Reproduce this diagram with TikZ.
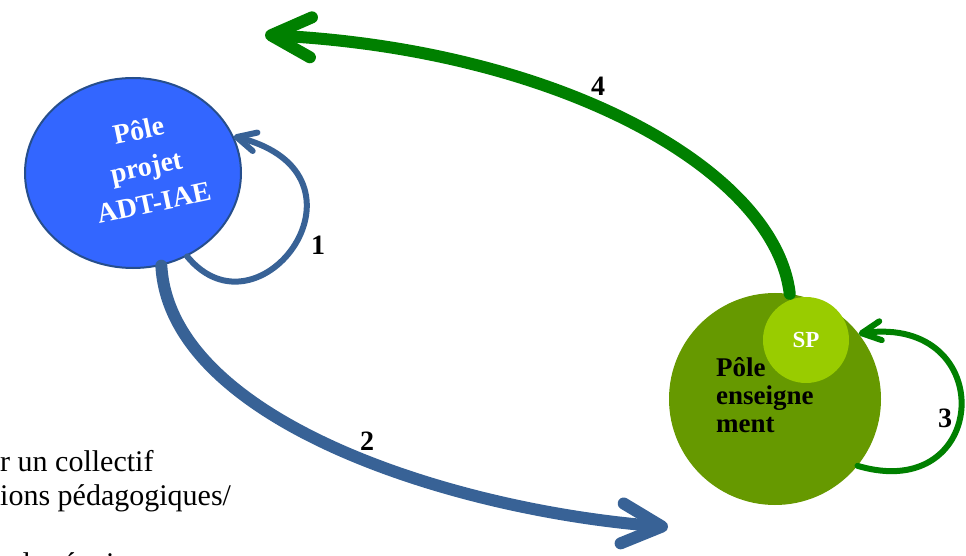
\documentclass[tikz,border=0pt]{standalone}
\usepackage{fontspec}
\setmainfont{Liberation Serif}
\usetikzlibrary{arrows.meta,shapes.geometric}
\definecolor{projblue}{RGB}{51,102,255}
\definecolor{projedge}{RGB}{38,78,140}
\definecolor{flowblue}{RGB}{56,98,150}
\definecolor{flowgreen}{RGB}{0,128,0}
\definecolor{ensgreen}{RGB}{102,153,0}
\definecolor{spgreen}{RGB}{153,204,0}
\tikzset{
  projcirc/.style={ellipse, draw=projedge, line width=2bp, fill=projblue,
    minimum width=216bp, minimum height=190bp},
  enscirc/.style={circle, fill=ensgreen, minimum size=212bp, inner sep=0pt},
  spcirc/.style={circle, fill=spgreen, minimum size=86bp, inner sep=0pt,
    text=white, font=\bfseries\fontsize{23bp}{26bp}\selectfont},
  projtext/.style={text=white, align=center, inner sep=0pt,
    font=\bfseries\fontsize{28bp}{37bp}\selectfont},
  enstext/.style={align=left, inner sep=0pt,
    font=\bfseries\fontsize{27bp}{28bp}\selectfont},
  flownum/.style={font=\bfseries\fontsize{28bp}{30bp}\selectfont, inner sep=0pt},
  bodytext/.style={anchor=base west, inner sep=0pt,
    font=\fontsize{30bp}{34bp}\selectfont},
  bigflow/.style={line width=12bp, line cap=round,
    -{Straight Barb[round, length=40bp, width=40bp]}},
  loopflow/.style={line width=6bp, line cap=round,
    -{Straight Barb[round, length=19bp, width=19bp]}},
}
\begin{document}
\begin{tikzpicture}[x=1bp,y=-1bp]
    \useasboundingbox (0,0) rectangle (966,556);

    % les deux poles
    \node[projcirc] (proj) at (133,173) {};
    \node[projtext, rotate=12] (projlbl) at (146,166) {Pôle\\projet\\ADT-IAE};
    \node[enscirc] (ens) at (775,399) {};
    \node[spcirc] (sp) at (806,340) {SP};
    \node[enstext, anchor=north west] (enslbl) at (716,357) {Pôle\\enseigne\\ment};

    % texte coupe a gauche
    \node[bodytext] (txta) at (0,471) {r un collectif};
    \node[bodytext] (txtb) at (0,505) {ions pédagogiques/};
    \node[bodytext] (txtc) at (0,573) {ndes équipes};

    \coordinate (tip2) at (668,527);
    \coordinate (tip4) at (265,35);

    % fleches
    \draw[loopflow, flowblue] (proj.-57) .. controls (260,345) and (385,175) .. (proj.20);
    \draw[bigflow, flowblue] (proj.-73) .. controls (170,420) and (450,510) .. (tip2);
    \draw[loopflow, flowgreen] (ens.-39) .. controls (990,505) and (1000,315) .. (ens.38);
    \draw[bigflow, flowgreen] (ens.82) .. controls (775,170) and (560,50) .. (tip4);

    \node[flownum] (n1) at (318,245) {1};
    \node[flownum] (n2) at (367,441) {2};
    \node[flownum] (n3) at (945,418) {3};
    \node[flownum] (n4) at (598,86) {4};
\end{tikzpicture}
\end{document}
